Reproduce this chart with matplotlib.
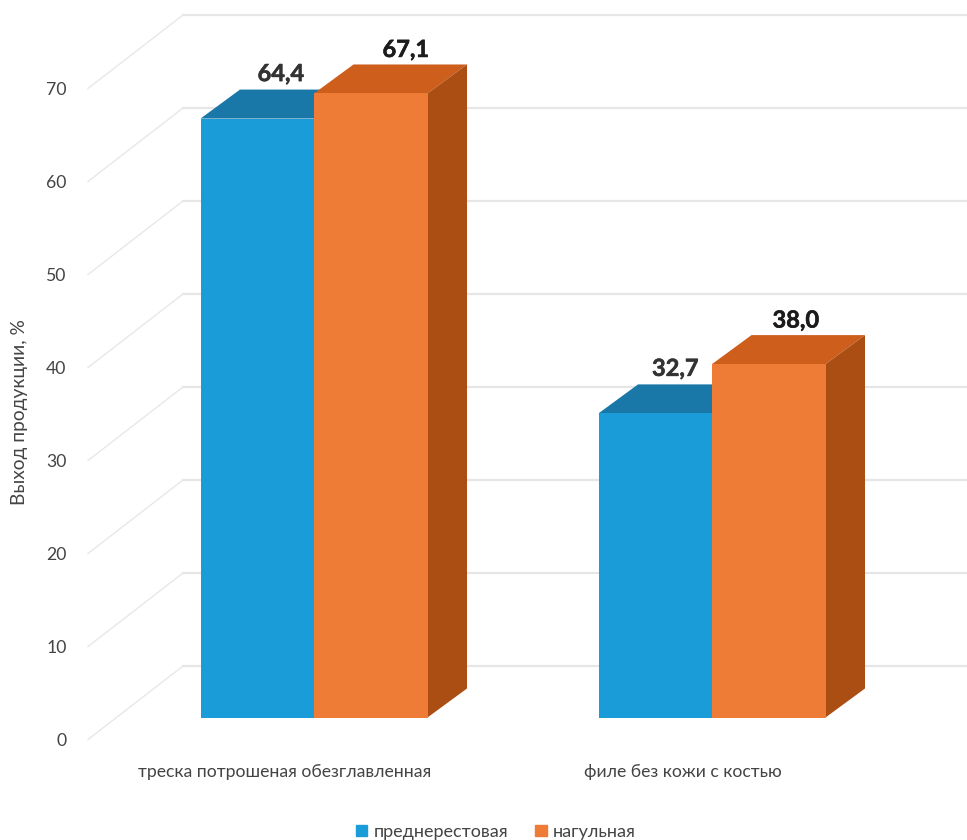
import matplotlib
matplotlib.use("Agg")
import matplotlib.pyplot as plt
import matplotlib.patheffects as pe
import numpy as np
from matplotlib.patches import Polygon, Patch

plt.rcParams['font.family'] = ['Lato', 'Open Sans', 'DejaVu Sans']

# values
categories = ["треска потрошеная обезглавленная", "филе без кожи с костью"]
series_names = ["преднерестовая", "нагульная"]
prednerest = [64.4, 32.7]
nagul = [67.1, 38.0]
value_labels_a = ["64,4", "32,7"]
value_labels_b = ["67,1", "38,0"]
y_ticks = [0, 10, 20, 30, 40, 50, 60, 70]

# label shift from the bar centre, pixels
label_dx_a = [23.5, 20]
label_dx_b = [35, 27]

W, H = 967, 840
# plot box in pixels: 0 -> y 739.5, 70 -> y 88.5, first group centre x 314, second 712
px_left, px_y0, px_y70 = 86, 739.5, 88.5
px_per_cat = 398.0
px_per_val = (px_y0 - px_y70) / 70

fig = plt.figure(figsize=(W / 100, H / 100), dpi=100)
ax = fig.add_axes([px_left / W, 1 - px_y0 / H, (W - px_left) / W, (px_y0 - px_y70) / H])
ax.set_xlim((px_left - 314) / px_per_cat, (W - 314) / px_per_cat)
ax.set_ylim(0, 70)
for s in ax.spines.values():
    s.set_visible(False)

# depth of the fake 3d box, in data units
wall_dx = 97 / px_per_cat
wall_dy = 73.5 / px_per_val
bar_dx = 39.5 / px_per_cat
bar_dy = 29 / px_per_val
lift = 22 / px_per_val
bar_w = 113.5 / px_per_cat
x_left_edge = ax.get_xlim()[0]

# back wall gridlines and the diagonal floor/side lines
for t in y_ticks:
    ax.plot([x_left_edge + 2 / px_per_cat, x_left_edge + wall_dx], [t, t + wall_dy], color="#e8e8e8", lw=1.0,
            clip_on=False, zorder=1)
    ax.plot([x_left_edge + wall_dx, ax.get_xlim()[1]], [t + wall_dy, t + wall_dy], color="#e6e6e6",
            lw=1.6, clip_on=False, zorder=1)


def draw_bar(x, v, front, top, side, with_side, z):
    ax.bar(x, v, width=bar_w, bottom=lift, align="edge", color=front, zorder=z + 1)
    y = v + lift
    ax.add_patch(Polygon([(x, y), (x + bar_w, y), (x + bar_w + bar_dx, y + bar_dy), (x + bar_dx, y + bar_dy)],
                         closed=True, facecolor=top, edgecolor="none", zorder=z, clip_on=False))
    if with_side:
        ax.add_patch(Polygon([(x + bar_w, lift), (x + bar_w + bar_dx, lift + bar_dy),
                              (x + bar_w + bar_dx, y + bar_dy), (x + bar_w, y)],
                             closed=True, facecolor=side, edgecolor="none", zorder=z, clip_on=False))


blue, blue_top = "#1a9cd8", "#1a78a8"
orange, orange_top, orange_side = "#ee7c37", "#cd5e1c", "#ab4e14"

for i in range(len(categories)):
    draw_bar(i - bar_w, prednerest[i], blue, blue_top, blue_top, False, 3)
    draw_bar(i, nagul[i], orange, orange_top, orange_side, True, 5)
    # value labels sit above the top face
    t1 = ax.text(i - bar_w / 2 + label_dx_a[i] / px_per_cat, prednerest[i] + lift + 45 / px_per_val,
                 value_labels_a[i], ha="center", va="center", fontsize=17, fontweight="bold",
                 color="#333333", zorder=8, clip_on=False)
    t2 = ax.text(i + bar_w / 2 + label_dx_b[i] / px_per_cat, nagul[i] + lift + 44 / px_per_val,
                 value_labels_b[i], ha="center", va="center", fontsize=17, fontweight="bold",
                 color="#1c1c1c", zorder=8, clip_on=False)
    t1.set_path_effects([pe.withStroke(linewidth=0.4, foreground="#333333")])
    t2.set_path_effects([pe.withStroke(linewidth=0.4, foreground="#1c1c1c")])

ax.set_yticks(y_ticks)
ax.set_xticks(np.arange(len(categories)) - 29.5 / px_per_cat)
ax.set_xticklabels(categories)
ax.tick_params(axis="both", length=0, labelsize=12.7, labelcolor="#444444")
ax.tick_params(axis="x", pad=18)
ax.tick_params(axis="y", pad=14)
ax.set_ylabel("Выход продукции, %", fontsize=13.8, color="#444444")
ax.yaxis.set_label_coords((28 - px_left) / (W - px_left), 0.503)

handles = [Patch(color=blue), Patch(color=orange)]
fig.legend(handles, series_names, loc="center", bbox_to_anchor=(496 / W, 1 - 832 / H), ncol=2, frameon=False,
           fontsize=13, handlelength=0.62, handleheight=0.62, handletextpad=0.35, columnspacing=1.5,
           labelcolor="#444444")

fig.savefig("out.png", dpi=100)
